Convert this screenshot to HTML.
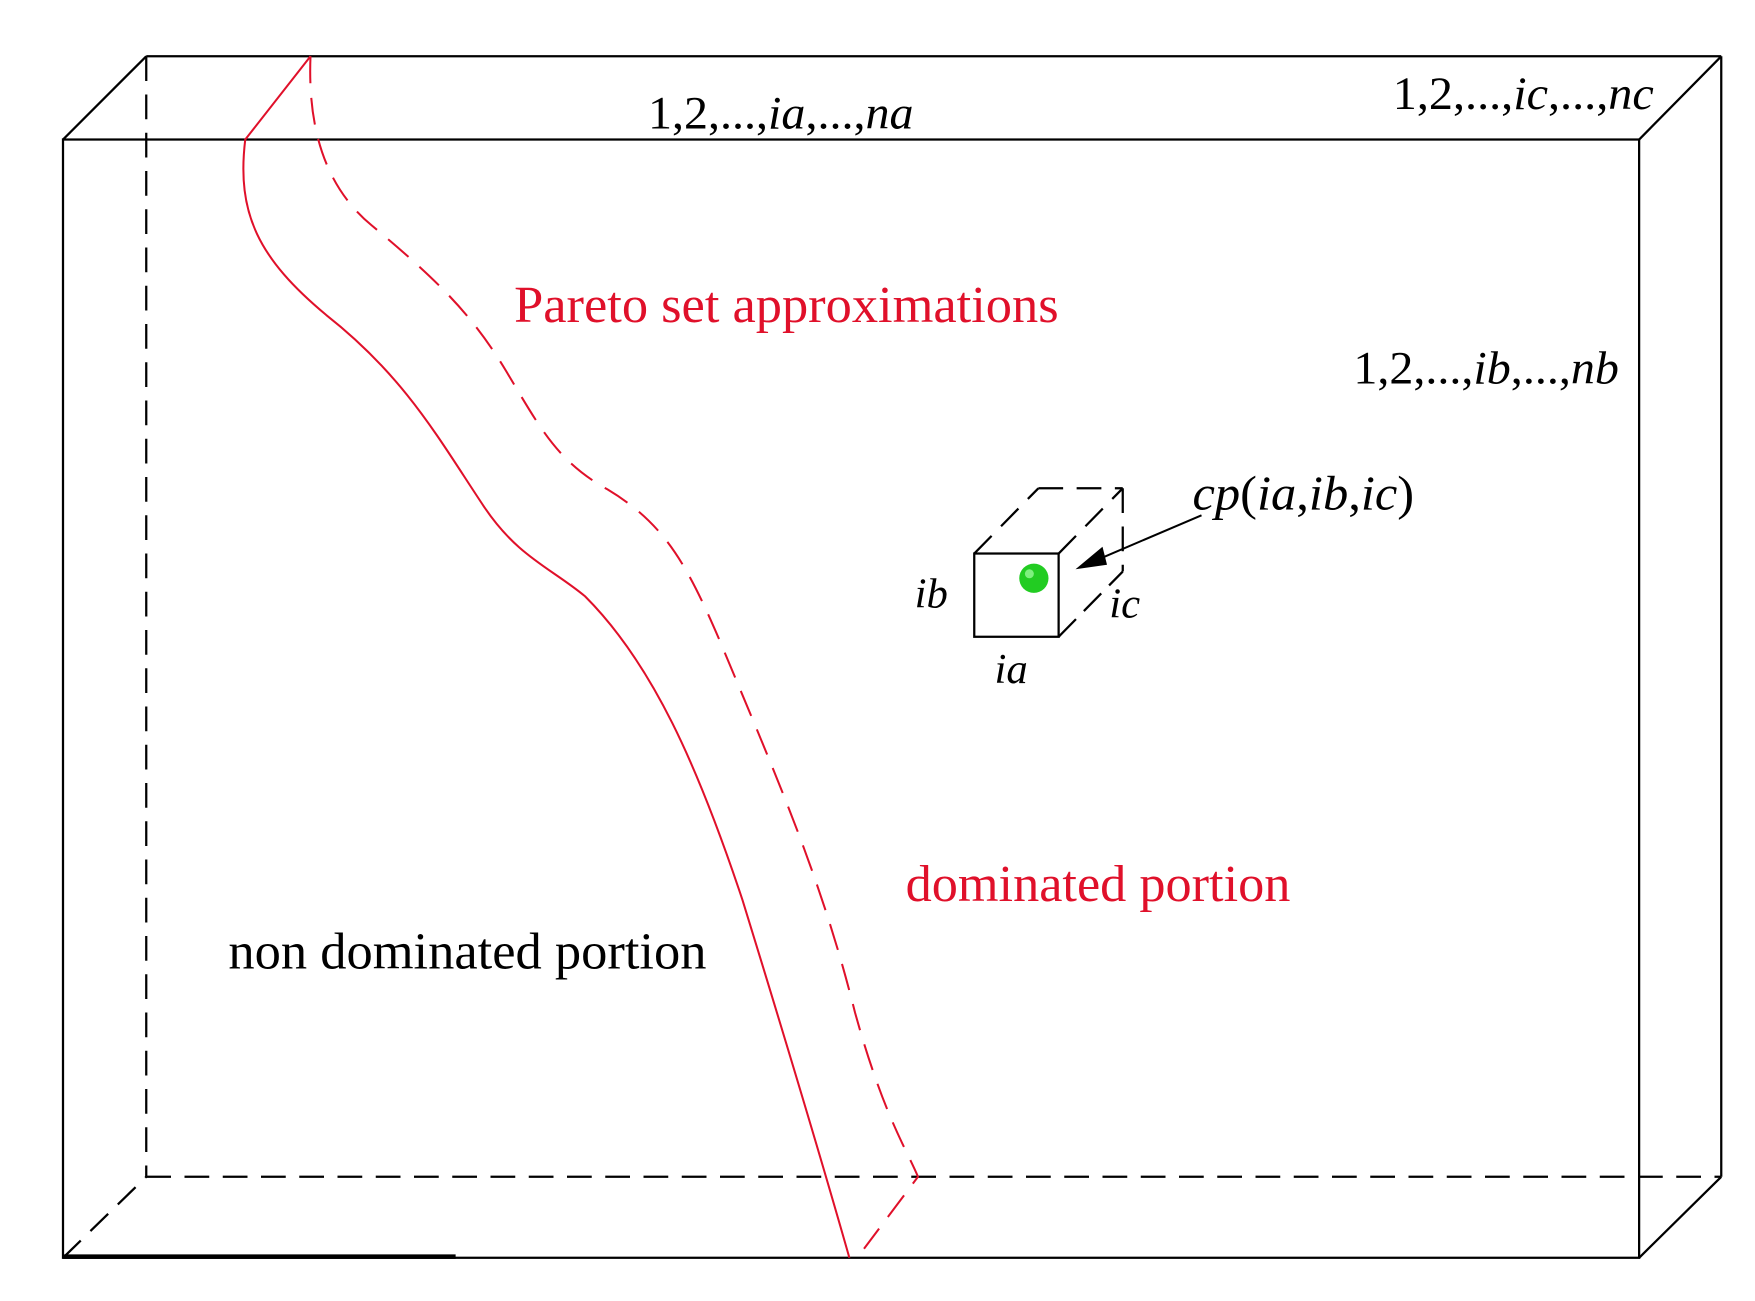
<!DOCTYPE html>
<html><head><meta charset="utf-8"><style>
html,body{margin:0;padding:0;background:#fff;}
svg{display:block;}
text{font-family:"Liberation Serif",serif;}
</style></head><body>
<svg width="1755" height="1301" viewBox="0 0 1560 1156.4" xmlns="http://www.w3.org/2000/svg">
<rect width="1560" height="1157" fill="#fff"/>
<g stroke="#000" stroke-width="2" fill="none">
<rect x="56" y="124" width="1401" height="994"/>
<line x1="130" y1="50" x2="1530" y2="50"/>
<line x1="1530" y1="50" x2="1530" y2="1046"/>
<line x1="56" y1="124" x2="130" y2="50"/>
<line x1="1457" y1="124" x2="1530" y2="50"/>
<line x1="1457" y1="1118" x2="1530" y2="1046"/>
<g stroke-dasharray="22,12">
<line x1="130" y1="50" x2="130" y2="1046"/>
<line x1="130" y1="1046" x2="1530" y2="1046"/>
<line x1="56" y1="1118" x2="130" y2="1046"/>
</g>
<line x1="56" y1="1117" x2="405" y2="1117" stroke-width="4"/>
</g>
<g stroke="#e0102a" stroke-width="1.8" fill="none">
<path d="M276 50 L218 124 C210 190 230 230 290 280 C360 335 390 390 430 450 C460 495 490 505 520 530 C580 590 620 680 660 800 C700 930 730 1030 755 1118"/>
<path stroke-dasharray="24,13" d="M276 50 C274 100 282 160 330 200 C390 250 420 280 450 330 C480 380 495 410 540 435 C590 465 610 500 640 570 C690 690 730 780 760 900 C785 990 805 1020 816 1046 L768 1110"/>
</g>
<g stroke="#000" stroke-width="2" fill="none">
<rect x="866" y="492" width="75" height="74"/>
<line x1="941" y1="566" x2="998" y2="508" stroke-dasharray="22,10"/>
<g stroke-dasharray="22,12">
<line x1="866" y1="492" x2="923" y2="434"/>
<line x1="941" y1="492" x2="998" y2="434"/>
<line x1="923" y1="434" x2="998" y2="434"/>
<line x1="998" y1="434" x2="998" y2="508"/>
</g>
<line x1="1068" y1="458" x2="972" y2="499" stroke-width="1.8"/>
</g>
<polygon points="956,506 980,486 984,502" fill="#000"/>
<circle cx="919" cy="514" r="13" fill="#22cc22"/>
<circle cx="915" cy="510" r="4" fill="#7ef07e"/>
<g font-size="41" fill="#000">
<text x="576" y="114" textLength="236" lengthAdjust="spacingAndGlyphs">1,2,...,<tspan font-style="italic">ia</tspan>,...,<tspan font-style="italic">na</tspan></text>
<text x="1238" y="97" textLength="232" lengthAdjust="spacingAndGlyphs">1,2,...,<tspan font-style="italic">ic</tspan>,...,<tspan font-style="italic">nc</tspan></text>
<text x="1203" y="341" textLength="236" lengthAdjust="spacingAndGlyphs">1,2,...,<tspan font-style="italic">ib</tspan>,...,<tspan font-style="italic">nb</tspan></text>
<text x="1060" y="453" font-size="43" textLength="197" lengthAdjust="spacingAndGlyphs"><tspan font-style="italic">cp</tspan>(<tspan font-style="italic">ia</tspan>,<tspan font-style="italic">ib</tspan>,<tspan font-style="italic">ic</tspan>)</text>
<text x="813" y="540" font-size="38" font-style="italic">ib</text>
<text x="986" y="549" font-size="38" font-style="italic">ic</text>
<text x="884" y="607" font-size="38" font-style="italic">ia</text>
</g>
<g font-size="46.5">
<text x="457" y="286" fill="#e0102a" textLength="484" lengthAdjust="spacingAndGlyphs">Pareto set approximations</text>
<text x="805" y="801" fill="#e0102a" textLength="342" lengthAdjust="spacingAndGlyphs">dominated portion</text>
<text x="203" y="861" fill="#000" textLength="425" lengthAdjust="spacingAndGlyphs">non dominated portion</text>
</g>
</svg>
</body></html>
